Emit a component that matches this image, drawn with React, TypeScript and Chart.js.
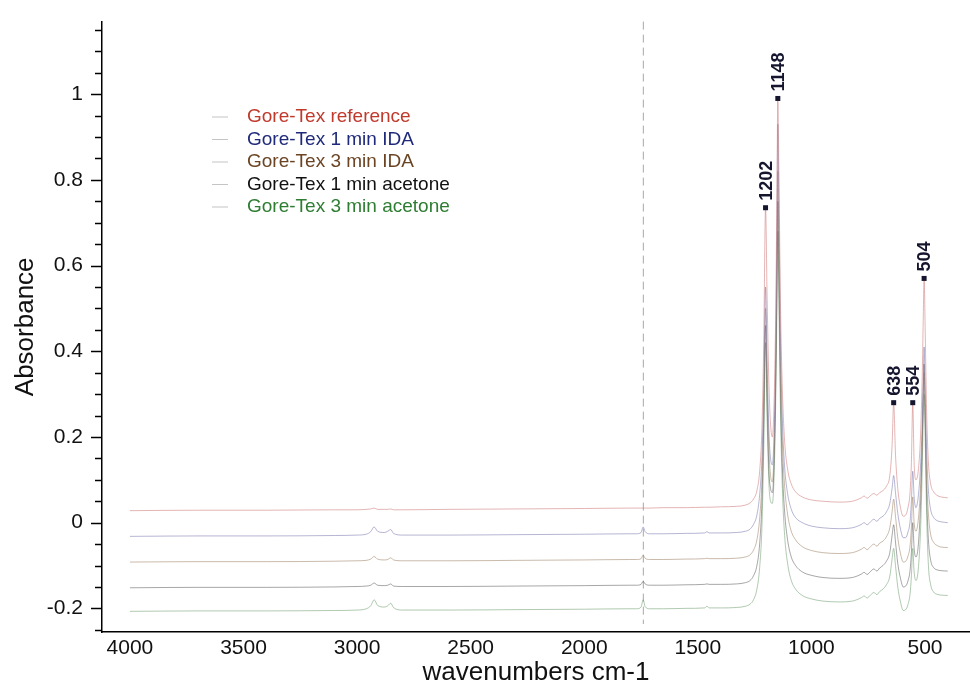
import React, { useEffect, useRef } from "react";
import { Chart, registerables } from "chart.js";

Chart.register(...registerables);

const WAVENUMBERS = [
  4000, 3700, 3400, 3100, 3000, 2960, 2940, 2925, 2910, 2880,
  2865, 2852, 2840, 2800, 2600, 2300, 2000, 1800, 1770, 1750,
  1741, 1732, 1712, 1650, 1550, 1470, 1460, 1450, 1400, 1330,
  1290, 1270, 1255, 1240, 1228, 1218, 1210, 1202, 1195, 1187,
  1180, 1172, 1165, 1158, 1152, 1148, 1143, 1136, 1128, 1118,
  1105, 1090, 1070, 1040, 1000, 950, 880, 820, 780, 768,
  755, 740, 725, 712, 700, 685, 670, 655, 645, 638,
  630, 620, 608, 596, 585, 575, 566, 560, 554, 548,
  540, 530, 520, 512, 508, 504, 499, 493, 485, 475,
  462, 448, 430, 400,
];

const GT_REFERENCE = [
  0.028, 0.029, 0.029, 0.03, 0.03, 0.031, 0.032, 0.034, 0.031, 0.031,
  0.031, 0.032, 0.03, 0.03, 0.031, 0.032, 0.033, 0.034, 0.034, 0.034,
  0.034, 0.034, 0.034, 0.035, 0.035, 0.036, 0.036, 0.036, 0.037, 0.038,
  0.041, 0.046, 0.055, 0.075, 0.12, 0.22, 0.42, 0.735, 0.52, 0.32,
  0.23, 0.2, 0.27, 0.46, 0.76, 0.99, 0.8, 0.5, 0.31, 0.19,
  0.125, 0.092, 0.072, 0.06, 0.053, 0.05, 0.048, 0.05, 0.058, 0.062,
  0.057, 0.063, 0.068, 0.064, 0.07, 0.075, 0.085, 0.11, 0.18, 0.28,
  0.16, 0.08, 0.035, 0.015, 0.018, 0.035, 0.07, 0.14, 0.28, 0.14,
  0.1, 0.12, 0.2, 0.35, 0.47, 0.57, 0.44, 0.26, 0.14, 0.09,
  0.072, 0.064, 0.06, 0.058,
];

const GT_IDA_1MIN = [
  -0.032, -0.031, -0.031, -0.03, -0.029, -0.027, -0.021, -0.01, -0.02, -0.023,
  -0.02, -0.016, -0.025, -0.029, -0.029, -0.028, -0.027, -0.026, -0.026, -0.023,
  -0.01, -0.021, -0.026, -0.026, -0.025, -0.024, -0.021, -0.024, -0.024, -0.023,
  -0.02, -0.015, -0.004, 0.018, 0.065, 0.15, 0.31, 0.55, 0.37, 0.21,
  0.15, 0.135, 0.2, 0.38, 0.68, 0.93, 0.72, 0.42, 0.24, 0.13,
  0.068, 0.033, 0.012, 0.0, -0.008, -0.012, -0.014, -0.012, -0.004, 0.0,
  -0.005, 0.002, 0.008, 0.003, 0.01, 0.015, 0.025, 0.045, 0.08, 0.11,
  0.07, 0.022, -0.015, -0.035, -0.035, -0.022, 0.002, 0.05, 0.12, 0.06,
  0.035, 0.06, 0.13, 0.24, 0.33, 0.41, 0.3, 0.17, 0.075, 0.03,
  0.012, 0.005, 0.002, 0.0,
];

const GT_IDA_3MIN = [
  -0.092, -0.091, -0.091, -0.09, -0.089, -0.088, -0.085, -0.079, -0.085, -0.087,
  -0.086, -0.082, -0.087, -0.089, -0.089, -0.088, -0.087, -0.086, -0.086, -0.084,
  -0.076, -0.083, -0.086, -0.086, -0.085, -0.084, -0.083, -0.084, -0.084, -0.083,
  -0.08, -0.075, -0.064, -0.04, 0.01, 0.1, 0.27, 0.5, 0.32, 0.17,
  0.11, 0.095, 0.16, 0.33, 0.6, 0.82, 0.63, 0.36, 0.19, 0.085,
  0.02, -0.018, -0.04, -0.056, -0.065, -0.07, -0.072, -0.07, -0.062, -0.058,
  -0.063, -0.056, -0.05, -0.055, -0.048, -0.043, -0.033, -0.012, 0.025, 0.055,
  0.015, -0.035, -0.072, -0.092, -0.09, -0.078, -0.055, -0.01, 0.06, 0.0,
  -0.02, 0.005, 0.08, 0.2, 0.29, 0.35, 0.25, 0.11, 0.02, -0.028,
  -0.046, -0.053, -0.057, -0.058,
];

const GT_ACETONE_1MIN = [
  -0.152, -0.151, -0.151, -0.15, -0.149, -0.148, -0.146, -0.141, -0.146, -0.147,
  -0.146, -0.143, -0.148, -0.149, -0.149, -0.148, -0.147, -0.146, -0.146, -0.144,
  -0.137, -0.143, -0.146, -0.146, -0.145, -0.144, -0.143, -0.144, -0.144, -0.143,
  -0.14, -0.135, -0.124, -0.1, -0.05, 0.05, 0.23, 0.46, 0.28, 0.12,
  0.08, 0.07, 0.13, 0.3, 0.55, 0.75, 0.57, 0.3, 0.13, 0.025,
  -0.04, -0.078, -0.1, -0.115, -0.123, -0.128, -0.13, -0.128, -0.12, -0.116,
  -0.121, -0.114, -0.108, -0.113, -0.106, -0.1, -0.09, -0.07, -0.03, -0.005,
  -0.045, -0.095, -0.13, -0.15, -0.148, -0.136, -0.112, -0.07, 0.0, -0.06,
  -0.08, -0.055, 0.04, 0.19, 0.3, 0.37, 0.24, 0.07, -0.04, -0.088,
  -0.105, -0.11, -0.112, -0.113,
];

const GT_ACETONE_3MIN = [
  -0.207, -0.206, -0.206, -0.205, -0.204, -0.201, -0.194, -0.18, -0.193, -0.197,
  -0.194, -0.188, -0.198, -0.204, -0.204, -0.203, -0.202, -0.201, -0.201, -0.197,
  -0.18, -0.196, -0.201, -0.201, -0.2, -0.199, -0.195, -0.199, -0.199, -0.198,
  -0.195, -0.19, -0.18, -0.155, -0.105, -0.01, 0.17, 0.42, 0.24, 0.09,
  0.05, 0.045, 0.1, 0.26, 0.5, 0.68, 0.51, 0.25, 0.08, -0.03,
  -0.095, -0.133, -0.155, -0.17, -0.178, -0.183, -0.185, -0.183, -0.175, -0.171,
  -0.176, -0.169, -0.163, -0.168, -0.161, -0.155, -0.145, -0.125, -0.085, -0.06,
  -0.1, -0.15, -0.185, -0.205, -0.203, -0.191, -0.167, -0.125, -0.06, -0.115,
  -0.135, -0.11, -0.02, 0.13, 0.24, 0.3, 0.19, 0.02, -0.1, -0.145,
  -0.162, -0.167, -0.169, -0.17,
];

const SERIES_LABELS = [
  "Gore-Tex reference",
  "Gore-Tex 1 min IDA",
  "Gore-Tex 3 min IDA",
  "Gore-Tex 1 min acetone",
  "Gore-Tex 3 min acetone",
];
const SERIES_VALUES = [GT_REFERENCE, GT_IDA_1MIN, GT_IDA_3MIN, GT_ACETONE_1MIN, GT_ACETONE_3MIN];
const LINE_COLORS = [
  "rgba(205, 120, 120, 0.55)",
  "rgba(110, 110, 170, 0.5)",
  "rgba(150, 120, 90, 0.5)",
  "rgba(60, 60, 60, 0.45)",
  "rgba(100, 150, 100, 0.5)",
];
const LEGEND_TEXT_COLORS = ["#c0392b", "#1f2a7a", "#6b4423", "#111111", "#2e7d32"];

const X_TICK_LABELS = [4000, 3500, 3000, 2500, 2000, 1500, 1000, 500];
const Y_TICK_LABELS = [-0.2, 0, 0.2, 0.4, 0.6, 0.8, 1];
const PEAK_WAVENUMBERS = [1148, 1202, 504, 638, 554];
const MARKER_WAVENUMBER = 1740;

const FONT = "'Liberation Sans', Arial, Helvetica, sans-serif";

const Y_ALL_TICKS: number[] = [];
for (let i = -5; i <= 23; i++) Y_ALL_TICKS.push(Math.round(i * 5) / 100);
const isMajorY = (v: number) => Y_TICK_LABELS.some((m) => Math.abs(m - v) < 1e-6);

const markerLinePlugin = {
  id: "markerLine",
  beforeDatasetsDraw(chart: any) {
    const { ctx, chartArea } = chart;
    const x = chart.scales.x.getPixelForValue(MARKER_WAVENUMBER);
    ctx.save();
    ctx.strokeStyle = "#a8a8a8";
    ctx.lineWidth = 1;
    ctx.setLineDash([8, 5]);
    ctx.beginPath();
    ctx.moveTo(x, chartArea.top);
    ctx.lineTo(x, chartArea.bottom - 8);
    ctx.stroke();
    ctx.restore();
  },
};

const yTickPlugin = {
  id: "yTickMarks",
  afterDraw(chart: any) {
    const { ctx, chartArea } = chart;
    const ys = chart.scales.y;
    ctx.save();
    ctx.strokeStyle = "#000";
    ctx.lineWidth = 1.5;
    Y_ALL_TICKS.forEach((v) => {
      const y = Math.round(ys.getPixelForValue(v)) + 0.5;
      const len = isMajorY(v) ? 11 : 7;
      ctx.beginPath();
      ctx.moveTo(chartArea.left - len, y);
      ctx.lineTo(chartArea.left, y);
      ctx.stroke();
    });
    ctx.restore();
  },
};

const peakLabelPlugin = {
  id: "peakLabels",
  afterDatasetsDraw(chart: any) {
    const { ctx } = chart;
    const xs = chart.scales.x;
    const ys = chart.scales.y;
    ctx.save();
    PEAK_WAVENUMBERS.forEach((wn) => {
      const i = WAVENUMBERS.indexOf(wn);
      const px = xs.getPixelForValue(wn);
      const py = ys.getPixelForValue(GT_REFERENCE[i]);
      ctx.fillStyle = "#15152e";
      ctx.fillRect(px - 2.5, py - 2.5, 5, 5);
      ctx.save();
      ctx.translate(px, py - 7);
      ctx.rotate(-Math.PI / 2);
      ctx.font = `bold 18px ${FONT}`;
      ctx.textAlign = "left";
      ctx.textBaseline = "middle";
      ctx.fillText(String(wn), 0, 1);
      ctx.restore();
    });
    ctx.restore();
  },
};

const legendPlugin = {
  id: "customLegend",
  afterDraw(chart: any) {
    const { ctx } = chart;
    const left = 212;
    const top = 117;
    const row = 22.5;
    ctx.save();
    ctx.font = `19px ${FONT}`;
    ctx.textBaseline = "middle";
    ctx.textAlign = "left";
    chart.data.datasets.forEach((ds: any, i: number) => {
      const y = top + i * row;
      ctx.strokeStyle = "#c4c4c4";
      ctx.lineWidth = 1;
      ctx.beginPath();
      ctx.moveTo(left, y);
      ctx.lineTo(left + 16, y);
      ctx.stroke();
      ctx.fillStyle = LEGEND_TEXT_COLORS[i];
      ctx.fillText(ds.label, left + 35, y);
    });
    ctx.restore();
  },
};

export default function App() {
  const canvasRef = useRef<HTMLCanvasElement | null>(null);

  useEffect(() => {
    if (!canvasRef.current) return;
    const datasets = SERIES_VALUES.map((vals, si) => ({
      label: SERIES_LABELS[si],
      data: WAVENUMBERS.map((wn, i) => ({ x: wn, y: vals[i] })),
      borderColor: LINE_COLORS[si],
      backgroundColor: LINE_COLORS[si],
      borderWidth: 1,
      pointRadius: 0,
      fill: false,
      cubicInterpolationMode: "monotone" as const,
    }));

    const chart = new Chart(canvasRef.current, {
      type: "line",
      data: { datasets },
      options: {
        animation: false,
        responsive: false,
        maintainAspectRatio: false,
        layout: { padding: { top: 18, left: 0, right: 0, bottom: 0 } },
        plugins: {
          legend: { display: false },
          tooltip: { enabled: false },
        },
        scales: {
          x: {
            type: "linear",
            reverse: true,
            min: 302,
            max: 4123,
            afterBuildTicks: (s: any) => {
              s.ticks = X_TICK_LABELS.map((v) => ({ value: v }));
            },
            afterFit: (s: any) => {
              s.height = 56;
            },
            grid: { display: false, drawTicks: false },
            border: { display: true, color: "#000", width: 1.5 },
            ticks: {
              autoSkip: false,
              maxRotation: 0,
              padding: 4,
              color: "#111",
              font: { family: FONT, size: 21 },
              callback: (v: any) => String(v),
            },
            title: {
              display: true,
              text: "wavenumbers cm-1",
              color: "#111",
              font: { family: FONT, size: 26 },
              padding: { top: 0, bottom: 0 },
            },
          },
          y: {
            type: "linear",
            min: -0.2552,
            max: 1.1694,
            afterBuildTicks: (s: any) => {
              s.ticks = Y_ALL_TICKS.map((v) => ({ value: v }));
            },
            afterFit: (s: any) => {
              s.width = 102;
            },
            grid: {
              display: true,
              drawOnChartArea: false,
              drawTicks: true,
              tickLength: 10,
              tickColor: "rgba(0,0,0,0)",
            },
            border: { display: true, color: "#000", width: 1.5 },
            ticks: {
              autoSkip: false,
              padding: 9,
              color: "#111",
              font: { family: FONT, size: 21 },
              callback: (v: any) => (isMajorY(Number(v)) ? String(Math.round(Number(v) * 10) / 10) : ""),
            },
            title: {
              display: true,
              text: "Absorbance",
              color: "#111",
              font: { family: FONT, size: 26 },
              padding: { top: 10, bottom: 0 },
            },
          },
        },
      },
      plugins: [markerLinePlugin, yTickPlugin, peakLabelPlugin, legendPlugin],
    });

    return () => chart.destroy();
  }, []);

  return (
    <div style={{ position: "fixed", left: 0, top: 0, width: 970, height: 688, background: "#fff" }}>
      <canvas ref={canvasRef} width={970} height={688} style={{ display: "block" }} />
    </div>
  );
}
